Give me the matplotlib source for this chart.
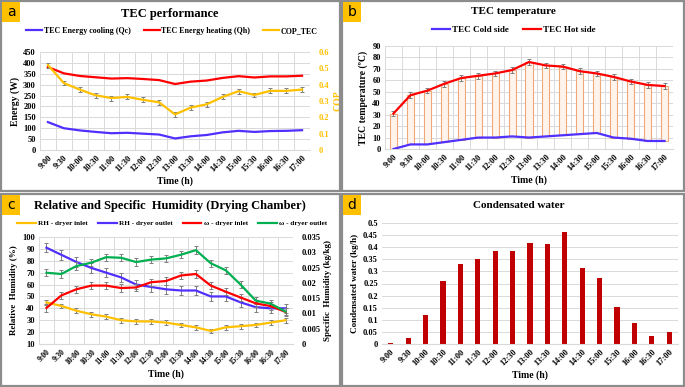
import numpy as np
import matplotlib
matplotlib.use("Agg")
import matplotlib.pyplot as plt
from matplotlib.patches import Rectangle
from matplotlib.lines import Line2D
from matplotlib.ticker import FuncFormatter

plt.rcParams['font.family'] = ['Liberation Serif', 'DejaVu Serif']
plt.rcParams['font.weight'] = 'bold'
plt.rcParams['axes.labelweight'] = 'bold'

times = ['9:00', '9:30', '10:00', '10:30', '11:00', '11:30', '12:00', '12:30', '13:00',
         '13:30', '14:00', '14:30', '15:00', '15:30', '16:00', '16:30', '17:00']

# panel a - TEC performance
qc = [128, 100, 90, 83, 77, 79, 75, 71, 53, 63, 69, 81, 88, 83, 87, 88, 91]
qh = [381, 352, 340, 334, 328, 330, 326, 321, 303, 314, 319, 331, 339, 333, 338, 338, 341]
cop = [0.52, 0.41, 0.37, 0.335, 0.318, 0.325, 0.307, 0.292, 0.218, 0.26, 0.28, 0.325, 0.36,
       0.337, 0.362, 0.362, 0.37]
cop_err = [0.015] * 17

# panel b - TEC temperature
t_cold = [0, 4, 4, 6, 8, 10, 10, 11, 10, 11, 12, 13, 14, 10, 9, 7, 7]
t_hot = [31, 47, 51, 57, 62, 64, 66, 69, 76, 73, 72, 68, 66, 63, 59, 56, 55]
t_hot_err = [2.5] * 17

# panel c - humidity
rh_in = [45, 42, 38, 35, 33, 30, 29, 29, 28, 26, 24, 21, 24, 25, 26, 28, 30]
rh_out = [91, 85, 79, 74, 70, 66, 60, 58, 56, 55, 55, 50, 50, 45, 41, 40, 40]
w_in = [0.0118, 0.0159, 0.0179, 0.0191, 0.0191, 0.0183, 0.0185, 0.0202, 0.0206, 0.0224,
        0.0229, 0.0191, 0.0171, 0.0152, 0.0133, 0.0124, 0.0105]
w_out = [0.0233, 0.0229, 0.0255, 0.0266, 0.0284, 0.0282, 0.0268, 0.0276, 0.0280, 0.0292,
         0.0307, 0.0264, 0.0241, 0.0194, 0.0142, 0.0132, 0.0106]
rh_in_err = [2] * 17
rh_out_err = [4] * 17
w_err = [0.0012] * 17

# panel d - condensated water
water = [0.005, 0.025, 0.12, 0.262, 0.332, 0.35, 0.383, 0.384, 0.418, 0.413, 0.463,
         0.312, 0.272, 0.153, 0.088, 0.035, 0.05]

W, H = 685, 387
fig = plt.figure(figsize=(W / 100, H / 100), dpi=100)

GOLD = '#FFC000'
BLUE = '#5030FF'
RED = '#FF0000'
GREEN = '#00B050'
GRID = '#D9D9D9'
ERR = '#7F7F7F'
TICK = 6


def px(l, t, r, b):
    return [l / W, 1 - b / H, (r - l) / W, (b - t) / H]


def frame(l, t, r, b, letter):
    fig.patches.append(Rectangle((l / W, 1 - b / H), (r - l) / W, (b - t) / H,
                                 transform=fig.transFigure, fill=False,
                                 edgecolor='#8C8C8C', linewidth=1.6))
    fig.patches.append(Rectangle(((l + 1) / W, 1 - (t + 21) / H), 18 / W, 20 / H,
                                 transform=fig.transFigure, facecolor=GOLD, edgecolor='none'))
    fig.text((l + 10) / W, 1 - (t + 11) / H, letter, ha='center', va='center',
             fontsize=10, family='DejaVu Sans', weight='normal')


def style(ax, vgrid=True):
    x = np.arange(len(times))
    ax.set_xlim(-0.5, len(times) - 0.5)
    ax.set_xticks(x)
    ax.set_xticklabels(times, rotation=45, ha='right', rotation_mode='anchor')
    ax.tick_params(length=0, labelsize=TICK, pad=3)
    if vgrid:
        ax.set_xticks(np.arange(-0.5, len(times)), minor=True)
        ax.tick_params(which='minor', length=0)
        ax.grid(which='minor', axis='x', color=GRID, linewidth=0.7)
    ax.grid(which='major', axis='y', color=GRID, linewidth=0.7)
    ax.set_axisbelow(True)
    for s in ax.spines.values():
        s.set_visible(False)
    ax.spines['bottom'].set_visible(True)
    ax.spines['bottom'].set_color(GRID)


def eb(ax, y, err, color, z=3):
    ax.errorbar(x, y, yerr=err, color=color, linewidth=1.6, ecolor=ERR,
                elinewidth=0.7, capsize=1.5, capthick=0.7, zorder=z)
    return Line2D([], [], color=color, linewidth=1.6)


frame(1, 1, 340, 191, 'a')
frame(342, 1, 684, 191, 'b')
frame(1, 194, 340, 386, 'c')
frame(342, 194, 684, 386, 'd')

x = np.arange(len(times))

# ---- a
ax1 = fig.add_axes(px(40, 52, 310, 150))
style(ax1)
l1, = ax1.plot(x, qc, color=BLUE, linewidth=1.6)
l2, = ax1.plot(x, qh, color=RED, linewidth=1.6)
ax1.set_ylim(0, 450)
ax1.set_yticks(np.arange(0, 451, 50))
ax1.set_ylabel('Energy (W)', fontsize=7, labelpad=2)
ax1.set_xlabel('Time (h)', fontsize=7, labelpad=2)
ax1b = ax1.twinx()
l3 = eb(ax1b, cop, cop_err, GOLD)
ax1b.set_ylim(0, 0.6)
ax1b.set_yticks(np.arange(0, 0.61, 0.1))
ax1b.yaxis.set_major_formatter(FuncFormatter(lambda v, p: '%g' % round(v, 2)))
ax1b.tick_params(length=0, labelsize=TICK, colors=GOLD, pad=6)
ax1b.set_ylabel('COP', fontsize=7, color=GOLD, labelpad=3)
for s in ax1b.spines.values():
    s.set_visible(False)
fig.text(170 / W, 1 - 14 / H, 'TEC performance', ha='center', va='center', fontsize=9)
fig.legend([l1, l2, l3], ['TEC Energy cooling (Qc)', 'TEC Energy heating (Qh)', 'COP_TEC'],
           loc='center', bbox_to_anchor=(172 / W, 1 - 31 / H), ncol=3, frameon=False,
           fontsize=5.8, handlelength=2.0, columnspacing=1.6, handletextpad=0.2)

# ---- b
ax2 = fig.add_axes(px(385, 46, 673, 149))
style(ax2)
ax2.bar(x, np.array(t_hot) - np.array(t_cold), bottom=t_cold, width=0.42,
        facecolor='#FEF4EC', edgecolor='#F0A878', linewidth=0.8, zorder=2)
lb1, = ax2.plot(x, t_cold, color=BLUE, linewidth=1.6, zorder=3)
lb2 = eb(ax2, t_hot, t_hot_err, RED)
ax2.set_ylim(0, 90)
ax2.set_yticks(np.arange(0, 91, 10))
ax2.set_ylabel('TEC temperature (\u00baC)', fontsize=7, labelpad=3)
ax2.set_xlabel('Time (h)', fontsize=7, labelpad=2)
fig.text(513 / W, 1 - 12 / H, 'TEC temperature', ha='center', va='center', fontsize=8)
fig.legend([lb1, lb2], ['TEC Cold side', 'TEC Hot side'],
           loc='center', bbox_to_anchor=(514 / W, 1 - 30 / H), ncol=2, frameon=False,
           fontsize=6.5, handlelength=2.0, columnspacing=1.6, handletextpad=0.2)

# ---- c
ax3 = fig.add_axes(px(39, 237, 293, 344))
style(ax3)
lc1 = eb(ax3, rh_in, rh_in_err, GOLD)
lc2 = eb(ax3, rh_out, rh_out_err, BLUE)
ax3.set_ylim(10, 100)
ax3.set_yticks(np.arange(10, 101, 10))
ax3.set_ylabel('Relative  Humidity (%)', fontsize=6.5, labelpad=3)
ax3.set_xlabel('Time (h)', fontsize=7, labelpad=2)
ax3b = ax3.twinx()
lc3 = eb(ax3b, w_in, w_err, RED)
lc4 = eb(ax3b, w_out, w_err, GREEN)
ax3b.set_ylim(0, 0.035)
ax3b.set_yticks(np.arange(0, 0.0351, 0.005))
ax3b.yaxis.set_major_formatter(FuncFormatter(lambda v, p: '%g' % round(v, 3)))
ax3b.tick_params(length=0, labelsize=TICK, pad=6)
ax3b.set_ylabel('Specific  Humidity (kg/kg)', fontsize=6.5, labelpad=3)
for s in ax3b.spines.values():
    s.set_visible(False)
ax3.tick_params(axis='x', labelsize=5.5)
fig.text(170 / W, 1 - 206 / H, 'Relative and Specific  Humidity (Drying Chamber)',
         ha='center', va='center', fontsize=9)
fig.legend([lc1, lc2, lc3, lc4], ['RH - dryer inlet', 'RH - dryer outlet',
                                  '\u03c9 - dryer inlet', '\u03c9 - dryer outlet'],
           loc='center', bbox_to_anchor=(172 / W, 1 - 223 / H), ncol=4, frameon=False,
           fontsize=5.2, handlelength=2.6, columnspacing=1.4, handletextpad=0.3)

# ---- d
ax4 = fig.add_axes(px(382, 223, 678, 344))
style(ax4, vgrid=False)
ax4.bar(x, water, width=0.3, color='#C00000', zorder=2)
ax4.set_ylim(0, 0.5)
ax4.set_yticks(np.arange(0, 0.51, 0.05))
ax4.yaxis.set_major_formatter(FuncFormatter(lambda v, p: '%g' % round(v, 2)))
ax4.set_ylabel('Condensated water (kg/h)', fontsize=6.5, labelpad=3)
ax4.set_xlabel('Time (h)', fontsize=7, labelpad=2)
fig.text(519 / W, 1 - 205 / H, 'Condensated water', ha='center', va='center', fontsize=8)

fig.savefig('out.png', dpi=100)
